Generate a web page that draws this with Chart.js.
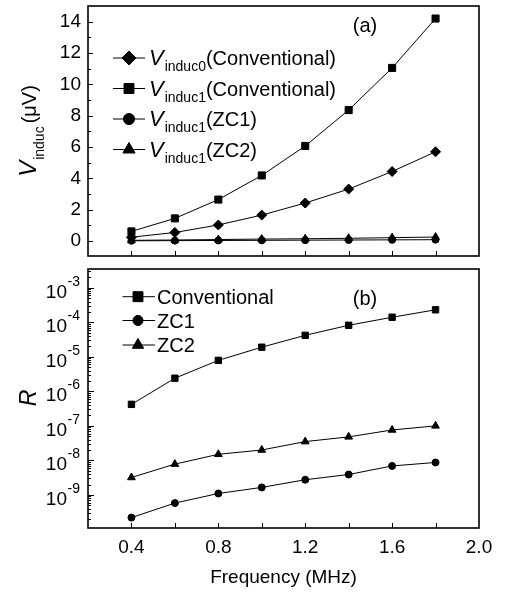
<!DOCTYPE html>
<html lang="en">
<head>
  <meta charset="utf-8">
  <title>Induced voltage and R versus frequency</title>
  <script src="https://cdn.jsdelivr.net/npm/chart.js@4.4.0/dist/chart.umd.min.js"></script>
  <style>
    body { margin: 0; background: #fff; }
    #wrap { position: relative; width: 507px; height: 599px; }
    #wrap canvas { position: absolute; left: 0; }
  </style>
</head>
<body>
<div id="wrap">
  <canvas id="chartA" width="507" height="262" style="top:0"></canvas>
  <canvas id="chartB" width="507" height="337" style="top:262px"></canvas>
</div>
<script>
  // frequency (MHz)
  const freq = [0.4, 0.6, 0.8, 1.0, 1.2, 1.4, 1.6, 1.8];

  // panel (a): induced voltage (uV)
  const vInduc0Conv = [0.25, 0.55, 1.03, 1.66, 2.43, 3.32, 4.44, 5.70];
  const vInduc1Conv = [0.62, 1.45, 2.65, 4.19, 6.07, 8.36, 11.05, 14.2];
  const vInduc1ZC1 = [0.02, 0.03, 0.04, 0.05, 0.06, 0.07, 0.08, 0.09];
  const vInduc1ZC2 = [0.05, 0.07, 0.10, 0.13, 0.15, 0.18, 0.22, 0.26];

  // panel (b): R
  const rConv = [4.2e-7, 2.4e-6, 7.9e-6, 1.9e-5, 4.2e-5, 8.2e-5, 1.4e-4, 2.3e-4];
  const rZC1 = [2.2e-10, 5.8e-10, 1.1e-9, 1.65e-9, 2.75e-9, 3.9e-9, 6.9e-9, 8.7e-9];
  const rZC2 = [3.2e-9, 7.8e-9, 1.5e-8, 2.0e-8, 3.5e-8, 4.8e-8, 7.6e-8, 1.0e-7];

  // ticks
  const xTickLabels = [0.4, 0.8, 1.2, 1.6, 2.0];
  const xTickMarks = [0.4, 0.6, 0.8, 1.0, 1.2, 1.4, 1.6, 1.8];
  const yTicksA = [0, 2, 4, 6, 8, 10, 12, 14];
  const yMinorA = [1, 3, 5, 7, 9, 11, 13];
  const yExpB = [-9, -8, -7, -6, -5, -4, -3];

  // legend texts
  const legendSubA = ['induc0', 'induc1', 'induc1', 'induc1'];
  const legendTailA = ['(Conventional)', '(Conventional)', '(ZC1)', '(ZC2)'];
  const legendB = ['Conventional', 'ZC1', 'ZC2'];

  const FONT = '"Liberation Sans", Arial, Helvetica, sans-serif';
  const yDecadesB = yExpB.map(e => Math.pow(10, e));
  const yMinorB = [];
  for (let e = -10; e <= -3; e++) {
    for (let k = 2; k <= 9; k++) {
      const v = k * Math.pow(10, e);
      if (v > 1.1e-10 && v < 3.5e-3) yMinorB.push(v);
    }
  }

  function pts(ys) {
    return freq.map((f, i) => ({ x: f, y: ys[i] }));
  }

  function series(label, ys, style, radius) {
    return {
      label: label,
      data: pts(ys),
      borderColor: '#000',
      backgroundColor: '#000',
      borderWidth: 1,
      pointStyle: style,
      pointRadius: radius,
      pointBorderWidth: 1,
      pointBackgroundColor: '#000',
      pointBorderColor: '#000',
      tension: 0
    };
  }

  // draws text pieces one after another (for sub/superscripts)
  function richText(ctx, parts, x, y, measureOnly) {
    let cx = x;
    for (const p of parts) {
      ctx.font = (p.italic ? 'italic ' : '') + p.size + 'px ' + FONT;
      if (!measureOnly) ctx.fillText(p.t, cx, y + (p.dy || 0));
      cx += ctx.measureText(p.t).width + (p.gap || 0);
    }
    return cx - x;
  }

  function framePlugin(yMajor, yMinor, majorLen) {
    return {
      id: 'frame',
      afterDatasetsDraw(chart) {
        const ctx = chart.ctx, a = chart.chartArea;
        const x = chart.scales.x, y = chart.scales.y;
        ctx.save();
        ctx.strokeStyle = '#000';
        ctx.lineWidth = 1.6;
        ctx.strokeRect(a.left, a.top, a.right - a.left, a.bottom - a.top);
        ctx.lineWidth = 1;
        ctx.beginPath();
        xTickMarks.forEach(v => {
          const px = Math.round(x.getPixelForValue(v)) + 0.5;
          ctx.moveTo(px, a.bottom);
          ctx.lineTo(px, a.bottom - 5);
        });
        yMajor.forEach(v => {
          const py = Math.round(y.getPixelForValue(v)) + 0.5;
          ctx.moveTo(a.left, py);
          ctx.lineTo(a.left + majorLen, py);
        });
        yMinor.forEach(v => {
          const py = Math.round(y.getPixelForValue(v)) + 0.5;
          ctx.moveTo(a.left, py);
          ctx.lineTo(a.left + 3, py);
        });
        ctx.stroke();
        ctx.restore();
      }
    };
  }

  function legendMarker(ctx, ds, cx, cy, x0, x1, r) {
    ctx.strokeStyle = '#000';
    ctx.lineWidth = 1;
    ctx.beginPath();
    ctx.moveTo(x0, cy);
    ctx.lineTo(x1, cy);
    ctx.stroke();
    ctx.fillStyle = '#000';
    Chart.helpers.drawPoint(ctx, { pointStyle: ds.pointStyle, radius: r, borderWidth: 1, rotation: 0 }, cx, cy);
    ctx.fill();
  }

  const axisA = {
    type: 'linear', min: -0.95, max: 15,
    afterBuildTicks: s => { s.ticks = yTicksA.map(v => ({ value: v })); },
    afterFit: s => { s.width = 88; s.paddingTop = 0; s.paddingBottom = 0; },
    grid: { display: false, drawTicks: false },
    border: { display: false },
    ticks: { padding: 7, color: '#000', font: { family: FONT, size: 19 } }
  };

  // ---------- panel (a) ----------
  new Chart(document.getElementById('chartA'), {
    type: 'line',
    data: {
      datasets: [
        series('Vinduc0(Conventional)', vInduc0Conv, 'rectRot', 5),
        series('Vinduc1(Conventional)', vInduc1Conv, 'rect', 5),
        series('Vinduc1(ZC1)', vInduc1ZC1, 'circle', 3.5),
        series('Vinduc1(ZC2)', vInduc1ZC2, 'triangle', 4.5)
      ]
    },
    options: {
      responsive: false,
      animation: false,
      layout: { padding: { top: 2, right: 28, bottom: 4, left: 0 } },
      plugins: { legend: { display: false }, tooltip: { enabled: false } },
      scales: {
        x: { type: 'linear', min: 0.2, max: 2.0, display: false },
        y: axisA
      }
    },
    plugins: [
      framePlugin(yTicksA, yMinorA, 5),
      {
        id: 'decorA',
        afterDraw(chart) {
          const ctx = chart.ctx;
          ctx.save();
          ctx.fillStyle = '#000';
          ctx.textBaseline = 'alphabetic';
          // legend
          const rowY = [58, 88.5, 119, 149.5];
          const rad = [7, 7, 5.5, 7];
          chart.data.datasets.forEach((ds, i) => {
            legendMarker(ctx, ds, 129, rowY[i], 113, 145, rad[i]);
            ctx.textAlign = 'left';
            richText(ctx, [
              { t: 'V', size: 22, italic: true, gap: 1 },
              { t: legendSubA[i], size: 14, dy: 6 },
              { t: legendTailA[i], size: 20 }
            ], 149, rowY[i] + 7);
          });
          // panel letter
          ctx.font = '20px ' + FONT;
          ctx.textAlign = 'center';
          ctx.fillText('(a)', 365, 32);
          // y title with subscript
          ctx.translate(36, 131);
          ctx.rotate(-Math.PI / 2);
          ctx.textAlign = 'left';
          const parts = [
            { t: 'V', size: 24, italic: true, gap: 1 },
            { t: 'induc', size: 14, dy: 8, gap: 3 },
            { t: '(\u03BCV)', size: 20 }
          ];
          const w = richText(ctx, parts, 0, 0, true);
          richText(ctx, parts, -w / 2, 0);
          ctx.restore();
        }
      }
    ]
  });

  // ---------- panel (b) ----------
  new Chart(document.getElementById('chartB'), {
    type: 'line',
    data: {
      datasets: [
        series('Conventional', rConv, 'rect', 4.5),
        series('ZC1', rZC1, 'circle', 3.5),
        series('ZC2', rZC2, 'triangle', 4.5)
      ]
    },
    options: {
      responsive: false,
      animation: false,
      layout: { padding: { top: 7, right: 28, bottom: 0, left: 0 } },
      plugins: { legend: { display: false }, tooltip: { enabled: false } },
      scales: {
        x: {
          type: 'linear', min: 0.2, max: 2.0,
          afterBuildTicks: s => { s.ticks = xTickLabels.map(v => ({ value: v })); },
          afterFit: s => { s.height = 71; s.paddingLeft = 0; s.paddingRight = 0; },
          grid: { display: false, drawTicks: false },
          border: { display: false },
          ticks: {
            padding: 8, color: '#000', maxRotation: 0, autoSkip: false,
            font: { family: FONT, size: 19 },
            callback: v => v.toFixed(1)
          }
        },
        y: {
          type: 'logarithmic', min: 1.1e-10, max: 3.5e-3,
          afterBuildTicks: s => { s.ticks = yDecadesB.map(v => ({ value: v })); },
          afterFit: s => { s.width = 88; s.paddingTop = 0; s.paddingBottom = 0; },
          grid: { display: false, drawTicks: false },
          border: { display: false },
          ticks: { display: false }
        }
      }
    },
    plugins: [
      framePlugin(yDecadesB, yMinorB, 6),
      {
        id: 'decorB',
        afterDraw(chart) {
          const ctx = chart.ctx, y = chart.scales.y, a = chart.chartArea;
          ctx.save();
          ctx.fillStyle = '#000';
          ctx.textBaseline = 'alphabetic';
          // log tick labels 10^n
          yExpB.forEach(e => {
            const py = y.getPixelForValue(Math.pow(10, e));
            ctx.font = '19px ' + FONT;
            ctx.textAlign = 'right';
            ctx.fillText('10', 67, py + 10);
            ctx.font = '14px ' + FONT;
            ctx.textAlign = 'left';
            ctx.fillText(String(e), 67.5, py - 2);
          });
          // legend
          const rowY = [34.7, 58.5, 83];
          const rad = [7, 5, 6.5];
          chart.data.datasets.forEach((ds, i) => {
            legendMarker(ctx, ds, 138, rowY[i], 122.5, 155, rad[i]);
            ctx.font = '20px ' + FONT;
            ctx.textAlign = 'left';
            ctx.fillText(legendB[i], 157, rowY[i] + 7);
          });
          // panel letter
          ctx.font = '20px ' + FONT;
          ctx.textAlign = 'center';
          ctx.fillText('(b)', 365, 43);
          // x title
          ctx.font = '19px ' + FONT;
          ctx.fillText('Frequency (MHz)', (a.left + a.right) / 2, 321);
          // y title
          ctx.translate(36, 136);
          ctx.rotate(-Math.PI / 2);
          ctx.font = 'italic 23px ' + FONT;
          ctx.fillText('R', 0, 0);
          ctx.restore();
        }
      }
    ]
  });
</script>
</body>
</html>
